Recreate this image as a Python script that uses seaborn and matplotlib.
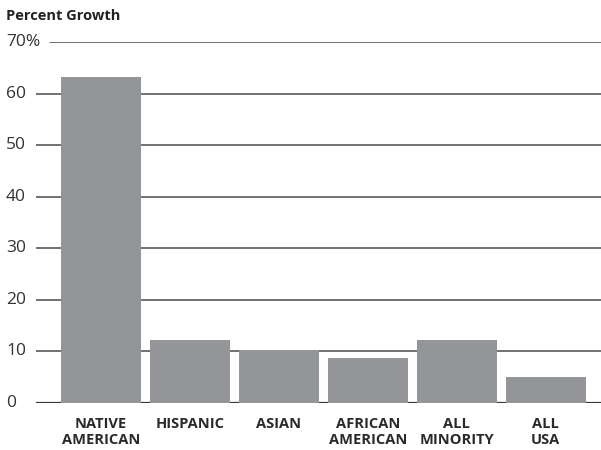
import matplotlib.pyplot as plt
import matplotlib.transforms as mtransforms
import pandas as pd
import seaborn as sns

# data
groups = ["NATIVE\nAMERICAN", "HISPANIC", "ASIAN", "AFRICAN\nAMERICAN", "ALL\nMINORITY", "ALL\nUSA"]
growth = [63.2, 12.2, 10.2, 8.8, 12.2, 5.1]
y_ticks = [0, 10, 20, 30, 40, 50, 60, 70]
y_tick_labels = ["0", "10", "20", "30", "40", "50", "60", "70%"]

sns.set_theme(style="white")
plt.rcParams["font.family"] = ["Open Sans", "DejaVu Sans"]

df = pd.DataFrame({"group": groups, "growth": growth})

fig = plt.figure(figsize=(6.01, 4.5), dpi=100)
ax = fig.add_axes([36 / 601, 47 / 450, 565 / 601, 361 / 450])

# gridlines (drawn below bars)
for t in y_ticks:
    start = (50 - 36) / 565 if t == 70 else 0
    ax.axhline(t, xmin=start, xmax=1, color="#3a3a3a" if t == 0 else "#4a4a4a",
               lw=1.6 if t == 0 else 1.1, zorder=0)

sns.barplot(data=df, x="group", y="growth", color="#939598", saturation=1,
            width=0.9, linewidth=0, ax=ax, zorder=2)

ax.set_xlim(-0.73, 5.62)
ax.set_ylim(0, 70)
for s in ax.spines.values():
    s.set_visible(False)

ax.set_xlabel("")
ax.set_ylabel("")
ax.set_yticks(y_ticks)
ax.set_yticklabels([])
ax.tick_params(axis="both", length=0)

# y labels at the left edge of the figure
trans = mtransforms.blended_transform_factory(fig.transFigure, ax.transData)
for t, lab in zip(y_ticks, y_tick_labels):
    ax.text(6 / 601, t, lab, transform=trans, ha="left", va="center",
            fontsize=12.5, color="#333333")

ax.set_xticks(range(len(groups)))
ax.set_xticklabels(groups, fontsize=10.5, fontweight="bold", color="#2a2a2a",
                   linespacing=1.2)
ax.tick_params(axis="x", pad=10)

fig.text(6 / 601, 1 - 16 / 450, "Percent Growth", ha="left", va="center",
         fontsize=10.5, fontweight="bold", color="#222222")

fig.savefig("out.png", dpi=100)
